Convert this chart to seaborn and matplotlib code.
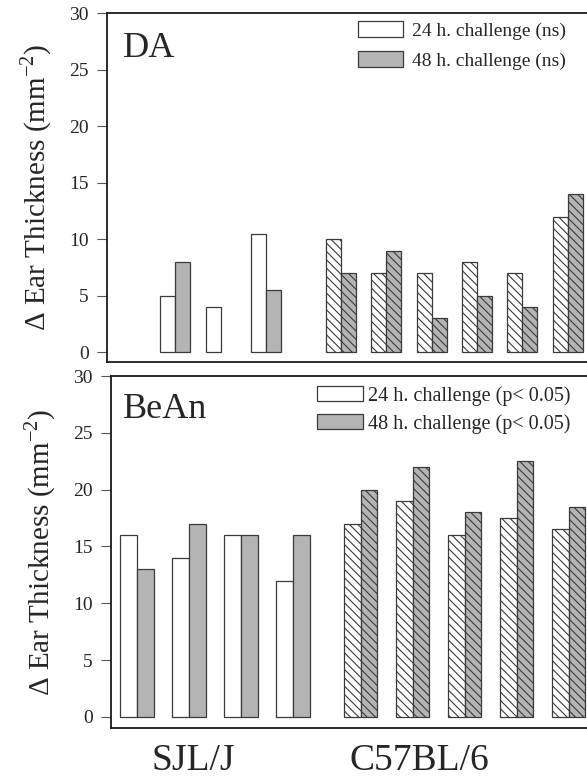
import numpy as np
import pandas as pd
import matplotlib
matplotlib.use('Agg')
import matplotlib.pyplot as plt
import seaborn as sns
from matplotlib.patches import Patch

# Delta ear thickness (NaN = no bar drawn)
da_sjl_24 = [np.nan, 5, 4, 10.5]
da_sjl_48 = [np.nan, 8, np.nan, 5.5]
da_c57_24 = [10, 7, 7, 8, 7, 12]
da_c57_48 = [7, 9, 3, 5, 4, 14]

bean_sjl_24 = [16, 14, 16, 12]
bean_sjl_48 = [13, 17, 16, 16]
bean_c57_24 = [17, 19, 16, 17.5, 16.5]
bean_c57_48 = [20, 22, 18, 22.5, 18.5]

times = ['24 h', '48 h']
strains = ['SJL/J', 'C57BL/6']
da_legend = ['24 h. challenge (ns)', '48 h. challenge (ns)']
bean_legend = ['24 h. challenge (p< 0.05)', '48 h. challenge (p< 0.05)']
y_ticks = [0, 5, 10, 15, 20, 25, 30]

EDGE = '#3a3a3a'
GRAY = '#b4b4b4'


def make_frame(sjl_24, sjl_48, c57_24, c57_48, gap):
    rows = []
    for i, (a, b) in enumerate(zip(sjl_24, sjl_48)):
        rows.append(('SJL/J', i, '24 h', a))
        rows.append(('SJL/J', i, '48 h', b))
    start = len(sjl_24) - 1 + gap
    for i, (a, b) in enumerate(zip(c57_24, c57_48)):
        rows.append(('C57BL/6', start + i, '24 h', a))
        rows.append(('C57BL/6', start + i, '48 h', b))
    return pd.DataFrame(rows, columns=['strain', 'pos', 'time', 'value'])


def draw_panel(ax, df, width, title, title_xy, legend_labels, legend_anchor, leg):
    for strain, hatch in [('SJL/J', None), ('C57BL/6', '\\' * 4)]:
        sub = df[df['strain'] == strain]
        sns.barplot(data=sub, x='pos', y='value', hue='time', hue_order=times,
                    palette=['white', GRAY], native_scale=True, width=width,
                    saturation=1, edgecolor=EDGE, linewidth=0.9, hatch=hatch,
                    errorbar=None, legend=False, ax=ax)
    ax.set_ylim(-0.85, 30)
    ax.set_yticks(y_ticks)
    ax.set_xticks([])
    ax.set_xlabel('')
    ax.set_ylabel('Δ Ear Thickness (mm$^{\\mathregular{-2}}$)', fontsize=21, labelpad=11)
    ax.tick_params(axis='y', direction='out', length=7, width=0.8, color='#555555',
                   labelsize=14, pad=6)
    for s in ['left', 'top', 'bottom']:
        ax.spines[s].set_linewidth(1.3)
        ax.spines[s].set_color('#1a1a1a')
    ax.spines['right'].set_visible(False)
    ax.text(title_xy[0], title_xy[1], title, transform=ax.transAxes, fontsize=26,
            va='baseline', ha='left')
    handles = [Patch(facecolor='white', edgecolor=EDGE, linewidth=0.9, label=legend_labels[0]),
               Patch(facecolor=GRAY, edgecolor=EDGE, linewidth=0.9, label=legend_labels[1])]
    ax.legend(handles=handles, loc='upper left', bbox_to_anchor=legend_anchor,
              bbox_transform=ax.figure.transFigure, frameon=False,
              borderpad=0, borderaxespad=0, handlelength=2.3, **leg)


sns.set_style('ticks')
plt.rcParams['font.family'] = ['Liberation Serif', 'DejaVu Serif']
plt.rcParams['mathtext.fontset'] = 'custom'
plt.rcParams['mathtext.rm'] = 'Liberation Serif'
plt.rcParams['hatch.linewidth'] = 0.8

fig = plt.figure(figsize=(5.87, 7.82), dpi=100)
W, H = 587, 782

# top panel: DA
ax1 = fig.add_axes([107 / W, 1 - 362 / H, (615.5 - 107) / W, (362 - 13) / H])
da = make_frame(da_sjl_24, da_sjl_48, da_c57_24, da_c57_48, gap=1.65)
draw_panel(ax1, da, 0.66, 'DA', (0.031, 0.874), da_legend, (358 / W, 1 - 21 / H),
           dict(fontsize=14, handleheight=0.875, handletextpad=0.5, labelspacing=0.6))
ax1.set_xlim(-0.5, 10.7)

# bottom panel: BeAn
ax2 = fig.add_axes([111 / W, 1 - 728 / H, (620 - 111) / W, (728 - 376) / H])
bean = make_frame(bean_sjl_24, bean_sjl_48, bean_c57_24, bean_c57_48, gap=1.3)
draw_panel(ax2, bean, 0.64, 'BeAn', (0.024, 0.881), bean_legend, (317 / W, 1 - 386 / H),
           dict(fontsize=14.5, handleheight=0.75, handletextpad=0.25, labelspacing=0.4))
ax2.set_xlim(-0.5, 9.29)
ax2.set_ylim(-0.97, 30)

fig.text(193 / W, 1 - 761 / H, strains[0], fontsize=27, ha='center', va='center')
fig.text(419 / W, 1 - 761 / H, strains[1], fontsize=27, ha='center', va='center')

fig.savefig('out.png', dpi=100)
